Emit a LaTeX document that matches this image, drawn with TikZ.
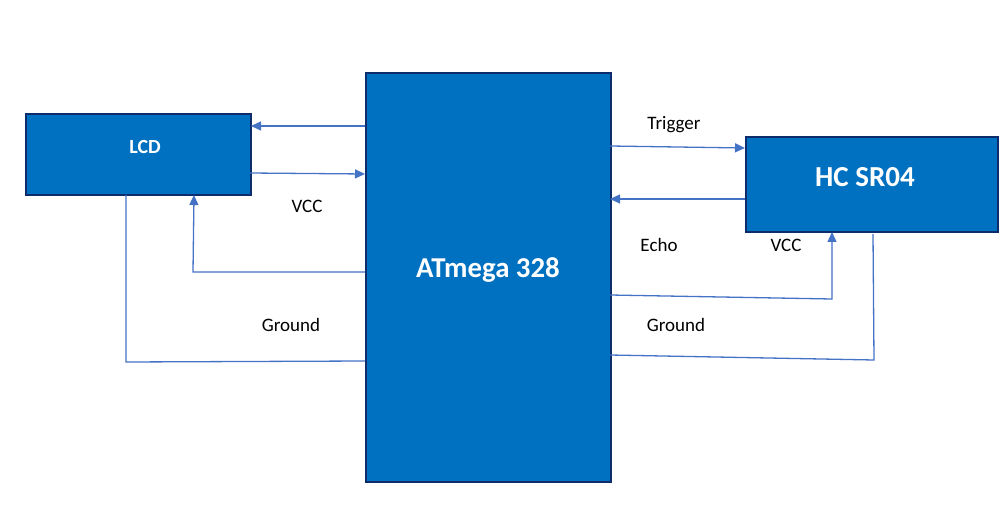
\documentclass[tikz,border=0pt]{standalone}
\usepackage{fontspec}
\setmainfont{Carlito}
\usetikzlibrary{arrows.meta,calc}
\definecolor{boxfill}{HTML}{0070C0}
\definecolor{boxline}{HTML}{0D2C6C}
\definecolor{wire}{HTML}{4472C4}
\tikzset{
  block/.style={draw=boxline,line width=2pt,fill=boxfill,text=white,font=\bfseries,inner sep=0pt,anchor=north west},
  wireline/.style={draw=wire,line width=1.3pt},
  arr/.style={wireline,-{Triangle[length=10pt,width=9pt]}},
  lbl/.style={font=\fontsize{19}{22}\selectfont,text=black}
}
\begin{document}
\begin{tikzpicture}[x=1pt,y=-1pt]
\useasboundingbox (0,0) rectangle (1007,505);
\node[block,minimum width=225pt,minimum height=81pt,font=\bfseries\fontsize{20}{24}\selectfont] (lcd) at (25,113) {};
\node[text=white,font=\bfseries\fontsize{20}{24}\selectfont] (lcdt) at (145,147) {LCD};
\node[block,minimum width=245pt,minimum height=409pt] (atm) at (365,72) {};
\node[text=white,font=\bfseries\fontsize{28.8}{32}\selectfont] (atmt) at (488,270) {ATmega 328};
\node[block,minimum width=252pt,minimum height=95pt] (hc) at (745,136) {};
\node[text=white,font=\bfseries\fontsize{29}{32}\selectfont] (hct) at (865,177) {HC SR04};
% left side connectors
\coordinate (a1) at (365,126);
\coordinate (l1) at (251,126);
\coordinate (l2) at (250,173);
\coordinate (a2) at (365,174);
\coordinate (a3) at (365,272);
\coordinate (c3) at (193,272);
\coordinate (l3) at (194,195);
\coordinate (l4) at (126,195);
\coordinate (c4) at (126,362);
\coordinate (a4) at (365,361);
\draw[arr] (a1) -- (l1);
\draw[arr] (l2) -- (a2);
\draw[arr] (a3) -- (c3) -- (l3);
\draw[wireline] (l4) -- (c4) -- (a4);
% right side connectors
\coordinate (a5) at (610,146);
\coordinate (h5) at (745,148);
\coordinate (h6) at (745,199);
\coordinate (a6) at (610,199);
\coordinate (a7) at (610,295);
\coordinate (c7) at (832,299);
\coordinate (h7) at (832,232);
\coordinate (h8) at (873,234);
\coordinate (c8) at (874,360);
\coordinate (a8) at (610,355);
\draw[arr] (a5) -- (h5);
\draw[arr] (h6) -- (a6);
\draw[arr] (a7) -- (c7) -- (h7);
\draw[wireline] (h8) -- (c8) -- (a8);
% labels
\node[lbl] (vccl) at (307,206) {VCC};
\node[lbl] (gndl) at (291,325) {Ground};
\node[lbl] (trig) at (674,125) {Trigger};
\node[lbl] (echo) at (659,245) {Echo};
\node[lbl] (vccr) at (786,245) {VCC};
\node[lbl] (gndr) at (676,325) {Ground};
\end{tikzpicture}
\end{document}
